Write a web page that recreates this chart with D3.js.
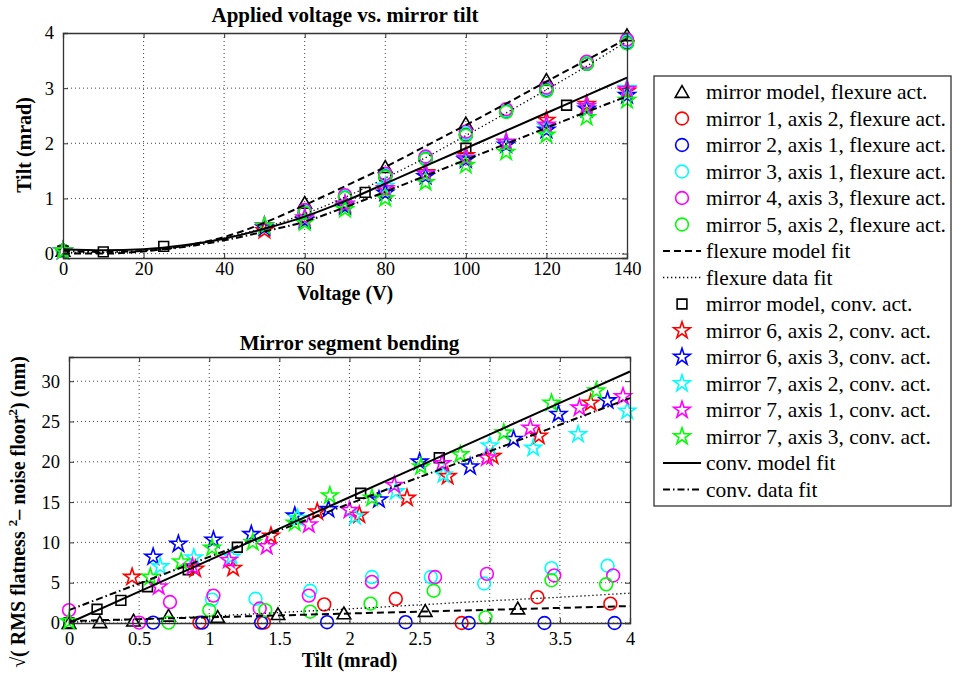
<!DOCTYPE html>
<html><head><meta charset="utf-8">
<script src="https://cdn.jsdelivr.net/npm/d3@7"></script>
<style>
body{margin:0;background:#fff}
svg{display:block}
text{font-family:"Liberation Serif","Times New Roman",serif;fill:#000}
</style>
</head><body>
<svg id="c" width="953" height="675"></svg>
<script>
// ================= DATA =================
const mirrorColors = ["#ff0000","#0000ff","#00ffff","#ff00ff","#00ff00"];

// ---- Top chart: Applied voltage (V) vs mirror tilt (mrad)
const topXTicks = [0,20,40,60,80,100,120,140];
const topYTicks = [0,1,2,3,4];
const topModelFlexV    = [0,60,80,100,120,140];
const topModelFlexTilt = [0.05,0.92,1.57,2.36,3.15,3.96];
const topFlexV  = [0,60,70,80,90,100,110,120,130,140];
const topFlexM1 = [0.05,0.74,1.02,1.41,1.73,2.16,2.59,2.97,3.45,3.83];
const topFlexM2 = [0.05,0.74,1.02,1.40,1.72,2.15,2.58,2.96,3.44,3.82];
const topFlexM3 = [0.05,0.77,1.04,1.43,1.74,2.18,2.60,2.99,3.46,3.85];
const topFlexM4 = [0.05,0.79,1.06,1.45,1.76,2.21,2.62,3.01,3.48,3.88];
const topFlexM5 = [0.05,0.74,1.01,1.39,1.71,2.14,2.57,2.95,3.44,3.81];
const topModelConvV    = [0,10,25,75,100,125];
const topModelConvTilt = [0.05,0.03,0.13,1.11,1.91,2.69];
const topConvV   = [0,50,60,70,80,90,100,110,120,130,140];
const topConvM6a2 = [0.05,0.42,0.62,0.88,1.15,1.47,1.78,2.02,2.42,2.71,2.95];
const topConvM6a3 = [0.05,0.47,0.60,0.85,1.10,1.40,1.70,1.97,2.24,2.62,2.87];
const topConvM7a2 = [0.05,0.50,0.64,0.90,1.22,1.45,1.74,2.02,2.30,2.67,3.00];
const topConvM7a1 = [0.05,0.51,0.65,0.90,1.18,1.45,1.73,2.02,2.33,2.67,2.98];
const topConvM7a3 = [0.05,0.50,0.56,0.80,1.00,1.29,1.60,1.84,2.15,2.47,2.78];
const topFitV        = [0,10,20,30,40,50,60,70,80,90,100,110,120,130,140];
const topFlexModelFit = [0.00,0.00,0.04,0.14,0.30,0.56,0.88,1.22,1.57,1.95,2.33,2.72,3.12,3.51,3.90];
const topFlexDataFit  = [0.02,0.02,0.05,0.13,0.28,0.47,0.72,1.02,1.37,1.74,2.14,2.55,2.97,3.40,3.85];
const topConvModelFit = [0.08,0.06,0.08,0.15,0.27,0.45,0.67,0.95,1.27,1.59,1.91,2.23,2.55,2.87,3.19];
const topConvDataFit  = [0.05,0.03,0.05,0.12,0.24,0.40,0.58,0.84,1.12,1.41,1.70,1.99,2.28,2.57,2.85];

// ---- Bottom chart: tilt (mrad) vs sqrt(RMS flatness^2 - noise floor^2) (nm)
const botXTicks = [0,0.5,1,1.5,2,2.5,3,3.5,4];
const botYTicks = [0,5,10,15,20,25,30];
const botModelFlexTilt = [0,0.22,0.46,0.71,1.06,1.49,1.96,2.54,3.20];
const botModelFlexVal  = [0,0.1,0.3,0.9,0.75,1.1,1.2,1.5,1.8];
const botM1Tilt = [0.93,1.39,1.82,2.33,2.80,3.34,3.86];
const botM1Val  = [0.05,0.05,2.3,3.0,0.0,3.2,2.4];
const botM2Tilt = [0.60,0.95,1.37,1.84,2.40,2.85,3.39,3.89];
const botM2Val  = [0.05,0.05,0.05,0.1,0.1,0.0,0.0,0.0];
const botM3Tilt = [1.02,1.33,1.72,2.16,2.58,2.96,3.44,3.84];
const botM3Val  = [2.9,3.0,4.0,5.7,5.7,4.9,6.8,7.1];
const botM4Tilt = [0.0,0.50,0.72,1.03,1.36,1.71,2.16,2.61,2.98,3.46,3.88];
const botM4Val  = [1.6,0.05,2.6,3.4,1.8,3.4,5.1,5.7,6.1,5.9,5.9];
const botM5Tilt = [0.71,1.00,1.40,1.72,2.15,2.60,2.97,3.44,3.83];
const botM5Val  = [0.05,1.6,1.6,1.4,2.4,4.0,0.7,5.3,4.8];
const botModelConvTilt = [0,0.20,0.37,0.56,0.85,1.20,2.08,2.64];
const botModelConvVal  = [0,1.7,2.8,4.5,6.6,9.4,16.1,20.5];
const botM6a2Tilt = [0.45,0.90,1.17,1.44,1.77,2.07,2.41,2.70,3.02,3.35,3.72];
const botM6a2Val  = [5.7,6.7,6.8,10.8,13.8,13.4,15.5,18.2,20.7,23.2,27.3];
const botM6a3Tilt = [0.60,0.78,1.03,1.30,1.61,1.85,2.21,2.50,2.86,3.17,3.49,3.84];
const botM6a3Val  = [8.2,9.8,10.3,11.0,13.3,14.1,15.3,20.0,19.4,22.8,25.9,27.6];
const botM7a2Tilt = [0.65,0.89,1.16,1.63,2.04,2.33,2.67,3.00,3.31,3.63,3.98];
const botM7a2Val  = [7.0,8.1,8.2,13.0,13.2,16.3,18.4,22.0,21.7,23.4,26.3];
const botM7a1Tilt = [0.64,0.88,1.14,1.41,1.71,2.00,2.32,2.66,2.98,3.29,3.64,3.95];
const botM7a1Val  = [4.5,7.0,7.8,9.5,12.2,14.0,17.1,19.8,20.5,24.2,26.7,28.1];
const botM7a3Tilt = [0.0,0.58,0.80,1.02,1.31,1.61,1.86,2.16,2.51,2.79,3.10,3.44,3.76];
const botM7a3Val  = [0.2,5.7,7.6,9.3,10.0,12.4,15.8,15.5,19.4,20.9,23.6,27.3,28.8];
const botFitTilt      = [0,0.5,1,1.5,2,2.5,3,3.5,4];
const botFlexModelFit = [0.25,0.48,0.71,0.94,1.18,1.41,1.64,1.87,2.10];
const botFlexDataFit  = [0.10,0.45,0.85,1.30,1.75,2.25,2.75,3.20,3.70];
const botConvModelFit = [0,3.9,7.8,11.7,15.6,19.5,23.4,27.3,31.2];
const botConvDataFit  = [1.6,4.9,8.2,11.5,14.8,18.1,21.3,24.6,27.9];

// ---- Legend
const legendLabels = [
 "mirror model, flexure act.","mirror 1, axis 2, flexure act.","mirror 2, axis 1, flexure act.",
 "mirror 3, axis 1, flexure act.","mirror 4, axis 3, flexure act.","mirror 5, axis 2, flexure act.",
 "flexure model fit","flexure data fit","mirror model, conv. act.",
 "mirror 6, axis 2, conv. act.","mirror 6, axis 3, conv. act.","mirror 7, axis 2, conv. act.",
 "mirror 7, axis 1, conv. act.","mirror 7, axis 3, conv. act.","conv. model fit","conv. data fit"];

// ================= DRAWING =================
const svg = d3.select("#c");
const FONT = '"Liberation Serif","Times New Roman",serif';
const dashes = {dashed:"7,4", dotted:"1.3,2.7", solid:null, dashdot:"7,3,1.5,3"};

const zip = (xs, ys) => xs.map((x,i)=>[x, ys[i]]);
function pts(kind, color, xs, ys){ return {kind, color, data: zip(xs,ys)}; }

const topMarkers = [
  pts("tri","#000",topModelFlexV,topModelFlexTilt),
  pts("circ",mirrorColors[0],topFlexV,topFlexM1),
  pts("circ",mirrorColors[1],topFlexV,topFlexM2),
  pts("circ",mirrorColors[2],topFlexV,topFlexM3),
  pts("circ",mirrorColors[3],topFlexV,topFlexM4),
  pts("circ",mirrorColors[4],topFlexV,topFlexM5),
  pts("sq","#000",topModelConvV,topModelConvTilt),
  pts("star",mirrorColors[0],topConvV,topConvM6a2),
  pts("star",mirrorColors[1],topConvV,topConvM6a3),
  pts("star",mirrorColors[2],topConvV,topConvM7a2),
  pts("star",mirrorColors[3],topConvV,topConvM7a1),
  pts("star",mirrorColors[4],topConvV,topConvM7a3)
];
const topLines = [
  {style:"dashed", data: zip(topFitV, topFlexModelFit)},
  {style:"dotted", data: zip(topFitV, topFlexDataFit)},
  {style:"solid",  data: zip(topFitV, topConvModelFit)},
  {style:"dashdot",data: zip(topFitV, topConvDataFit)}
];
const botMarkers = [
  pts("tri","#000",botModelFlexTilt,botModelFlexVal),
  pts("circ",mirrorColors[0],botM1Tilt,botM1Val),
  pts("circ",mirrorColors[1],botM2Tilt,botM2Val),
  pts("circ",mirrorColors[2],botM3Tilt,botM3Val),
  pts("circ",mirrorColors[3],botM4Tilt,botM4Val),
  pts("circ",mirrorColors[4],botM5Tilt,botM5Val),
  pts("sq","#000",botModelConvTilt,botModelConvVal),
  pts("star",mirrorColors[0],botM6a2Tilt,botM6a2Val),
  pts("star",mirrorColors[1],botM6a3Tilt,botM6a3Val),
  pts("star",mirrorColors[2],botM7a2Tilt,botM7a2Val),
  pts("star",mirrorColors[3],botM7a1Tilt,botM7a1Val),
  pts("star",mirrorColors[4],botM7a3Tilt,botM7a3Val)
];
const botLines = [
  {style:"dashed", data: zip(botFitTilt, botFlexModelFit)},
  {style:"dotted", data: zip(botFitTilt, botFlexDataFit)},
  {style:"solid",  data: zip(botFitTilt, botConvModelFit)},
  {style:"dashdot",data: zip(botFitTilt, botConvDataFit)}
];

const symTri  = d3.symbol(d3.symbolTriangle, 80)();
const symSq   = d3.symbol(d3.symbolSquare, 95)();
const symStar = d3.symbol(d3.symbolStar, 85)();

function drawMarker(g, kind, color, x, y){
  if(kind==="circ"){
    g.append("circle").attr("cx",x).attr("cy",y).attr("r",6.4)
     .attr("fill","none").attr("stroke",color).attr("stroke-width",1.6);
  } else {
    const d = kind==="tri"?symTri:kind==="sq"?symSq:symStar;
    const dy = kind==="tri"?1.5:0;
    g.append("path").attr("d",d).attr("transform",`translate(${x},${y+dy})`)
     .attr("fill","none").attr("stroke",color).attr("stroke-width",1.6)
     .attr("stroke-linejoin","miter");
  }
}

function drawLine(g, style, x1,y1,x2,y2){
  g.append("line").attr("x1",x1).attr("y1",y1).attr("x2",x2).attr("y2",y2)
   .attr("stroke","#000").attr("stroke-width", style==="dotted"?1.3:2)
   .attr("stroke-dasharray", dashes[style]);
}

function panel(cfg){
  const {left,right,top,bottom,xDomain,yDomain,xTicks,yTicks,title,titleY,xLabel,xLabelY,yLabelFn,markers,lines,xFmt,xPad} = cfg;
  const x = d3.scaleLinear().domain(xDomain).range([left,right]);
  const y = d3.scaleLinear().domain(yDomain).range([bottom,top]);
  const g = svg.append("g");
  g.append("g").selectAll("line").data(xTicks.filter(t=>t>xDomain[0]&&t<xDomain[1])).join("line")
    .attr("x1",d=>x(d)).attr("x2",d=>x(d)).attr("y1",top).attr("y2",bottom)
    .attr("stroke","#444").attr("stroke-width",1).attr("stroke-dasharray","1,3");
  g.append("g").selectAll("line").data(yTicks.filter(t=>t>=yDomain[0]&&t<yDomain[1])).join("line")
    .attr("x1",left).attr("x2",right).attr("y1",d=>y(d)).attr("y2",d=>y(d))
    .attr("stroke","#444").attr("stroke-width",1).attr("stroke-dasharray","1,3");
  const mg = g.append("g");
  markers.forEach(s=> s.data.forEach(([a,b])=> drawMarker(mg, s.kind, s.color, x(a), y(b))));
  const lineGen = d3.line().x(d=>x(d[0])).y(d=>y(d[1])).curve(d3.curveMonotoneX);
  lines.forEach(l=>{
    g.append("path").attr("d",lineGen(l.data)).attr("fill","none").attr("stroke","#000")
     .attr("stroke-width", l.style==="dotted"?1.3:2)
     .attr("stroke-dasharray", dashes[l.style]);
  });
  const axB = d3.axisBottom(x).tickValues(xTicks).tickSize(-5).tickPadding(xPad).tickFormat(xFmt||d3.format("d"));
  const axT = d3.axisTop(x).tickValues(xTicks).tickSize(-5).tickFormat("");
  const axL = d3.axisLeft(y).tickValues(yTicks).tickSize(-5).tickPadding(9).tickFormat(d3.format("d"));
  const axR = d3.axisRight(y).tickValues(yTicks).tickSize(-5).tickFormat("");
  const styleAx = sel => { sel.attr("font-family",FONT);
    sel.select(".domain").attr("stroke","#333").attr("stroke-width",1.3);
    sel.selectAll(".tick line").attr("stroke","#333");
    sel.selectAll("text").attr("font-family",FONT).attr("font-size",18.5).attr("fill","#000"); };
  g.append("g").attr("transform",`translate(0,${bottom})`).call(axB).call(styleAx);
  g.append("g").attr("transform",`translate(0,${top})`).call(axT).call(styleAx);
  g.append("g").attr("transform",`translate(${left},0)`).call(axL).call(styleAx);
  g.append("g").attr("transform",`translate(${right},0)`).call(axR).call(styleAx);
  g.append("text").attr("x",(left+right)/2).attr("y",titleY).attr("text-anchor","middle")
    .attr("font-weight","bold").attr("font-size",21).text(title);
  g.append("text").attr("x",(left+right)/2).attr("y",xLabelY).attr("text-anchor","middle")
    .attr("font-weight","bold").attr("font-size",20).text(xLabel);
  yLabelFn(g);
}

panel({left:63,right:627,top:33,bottom:258,xDomain:[0,140],yDomain:[-0.08,4],
  xTicks:topXTicks,yTicks:topYTicks,title:"Applied voltage vs. mirror tilt",titleY:22,
  xLabel:"Voltage (V)",xLabelY:300,markers:topMarkers,lines:topLines,xPad:4,
  yLabelFn:g=>g.append("text").attr("transform","translate(31,145) rotate(-90)")
    .attr("text-anchor","middle").attr("font-weight","bold").attr("font-size",20).text("Tilt (mrad)")});

panel({left:69,right:630,top:357,bottom:623,xDomain:[0,4],yDomain:[0,33],
  xTicks:botXTicks,yTicks:botYTicks,title:"Mirror segment bending",titleY:350,
  xLabel:"Tilt (mrad)",xLabelY:667,markers:botMarkers,lines:botLines,xFmt:d3.format("~g"),xPad:9,
  yLabelFn:g=>{
    const t = g.append("text").attr("transform","translate(25,512) rotate(-90)")
      .attr("text-anchor","middle").attr("font-weight","bold").attr("font-size",20);
    t.append("tspan").attr("font-weight","normal").text("\u221A");
    t.append("tspan").text("( RMS flatness ");
    t.append("tspan").attr("font-size",13).attr("dy",-8).text("2");
    t.append("tspan").attr("dy",8).text("\u2013 noise floor");
    t.append("tspan").attr("font-size",13).attr("dy",-8).text("2");
    t.append("tspan").attr("dy",8).text(") (nm)");
  }});

const lg = svg.append("g");
lg.append("rect").attr("x",654).attr("y",76).attr("width",297).attr("height",430)
  .attr("fill","#fff").attr("stroke","#333").attr("stroke-width",1.3);
const legKinds = [["m","tri","#000"],["m","circ",mirrorColors[0]],["m","circ",mirrorColors[1]],
 ["m","circ",mirrorColors[2]],["m","circ",mirrorColors[3]],["m","circ",mirrorColors[4]],
 ["l","dashed"],["l","dotted"],["m","sq","#000"],
 ["m","star",mirrorColors[0]],["m","star",mirrorColors[1]],["m","star",mirrorColors[2]],
 ["m","star",mirrorColors[3]],["m","star",mirrorColors[4]],["l","solid"],["l","dashdot"]];
legendLabels.forEach((lab,i)=>{
  const yy = 92 + i*26.5;
  const k = legKinds[i];
  if(k[0]==="m") drawMarker(lg, k[1], k[2], 682, yy);
  else drawLine(lg, k[1], 663, yy, 701, yy);
  lg.append("text").attr("x",706).attr("y",yy+7).attr("font-size",21.5).text(lab);
});
</script>
</body></html>
